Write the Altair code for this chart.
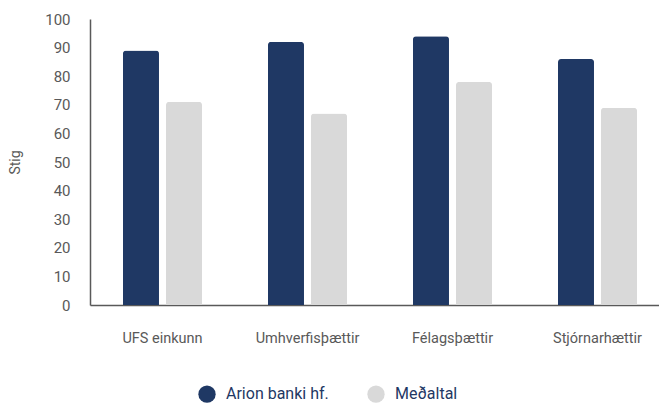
import altair as alt
import pandas as pd

categories = ["UFS einkunn", "Umhverfisþættir", "Félagsþættir", "Stjórnarhættir"]
series = ["Arion banki hf.", "Meðaltal"]
arion = [89, 92, 94, 86]
medaltal = [71, 67, 78, 69]
colors = ["#1f3864", "#d9d9d9"]

rows = []
for c, a, m in zip(categories, arion, medaltal):
    rows.append({"flokkur": c, "röð": series[0], "stig": a})
    rows.append({"flokkur": c, "röð": series[1], "stig": m})
df = pd.DataFrame(rows)

FONT = "Roboto"

chart = alt.Chart(df).mark_bar(
    cornerRadiusTopLeft=3, cornerRadiusTopRight=3
).encode(
    x=alt.X("flokkur:N", sort=categories, title=None,
            scale=alt.Scale(paddingInner=0.455, paddingOuter=0.2275, range=[0, 580]),
            axis=alt.Axis(labelAngle=0, ticks=False, labelPadding=26,
                          labelFontSize=14.5, labelColor="#595959", labelFont=FONT,
                          domainColor="#595959", domainWidth=1.5)),
    xOffset=alt.XOffset("röð:N", sort=series,
                        scale=alt.Scale(paddingInner=0.163, paddingOuter=0)),
    y=alt.Y("stig:Q", title="Stig",
            scale=alt.Scale(domain=[0, 100], nice=False),
            axis=alt.Axis(values=list(range(0, 101, 10)), grid=False, ticks=False,
                          labelPadding=20, labelFontSize=15, labelColor="#595959",
                          labelFont=FONT, domainColor="#595959", domainWidth=1.5,
                          titleFont=FONT, titleFontSize=14, titleFontWeight="normal",
                          titleColor="#595959", titlePadding=22)),
    color=alt.Color("röð:N", sort=series, title=None,
                    scale=alt.Scale(domain=series, range=colors),
                    legend=alt.Legend(orient="none", legendX=108, legendY=366,
                                      direction="horizontal", symbolType="circle",
                                      symbolSize=300, symbolStrokeWidth=0,
                                      labelFont=FONT, labelFontSize=16,
                                      labelColor="#1f3864", labelOffset=10,
                                      columnPadding=38)),
).properties(
    width=569, height=286,
    autosize=alt.AutoSizeParams(type="none"),
    padding={"left": 82, "top": 11, "right": 0, "bottom": 98},
).configure_view(stroke=None)

chart.save("out.html", embed_options={"renderer": "svg", "actions": False})
